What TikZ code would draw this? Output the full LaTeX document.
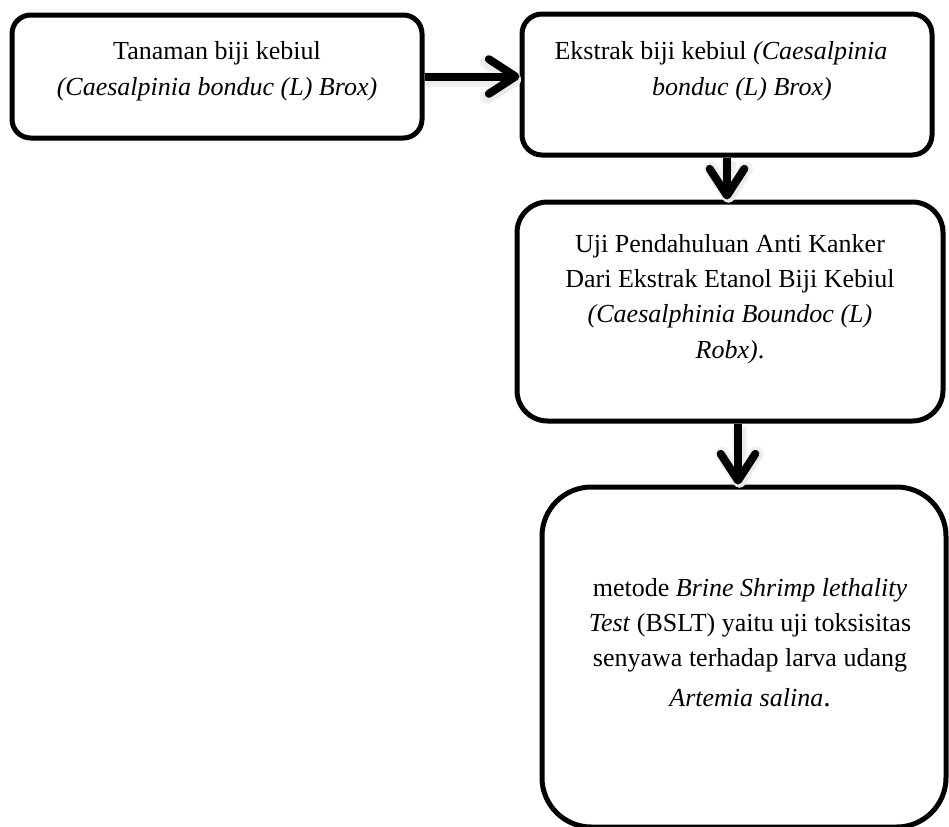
\documentclass[tikz,border=0pt]{standalone}
\usepackage{fontspec}
\setmainfont{Liberation Serif}
\usetikzlibrary{arrows.meta,fit}
\begin{document}
\begin{tikzpicture}[x=0.75pt,y=-0.75pt,
  box/.style={draw=black, fill=white, line width=3.75pt, rounded corners=#1, inner sep=0pt},
  box/.default=14pt,
  txt/.style={align=center, inner sep=0pt, font=\fontsize{19.5}{26.5}\selectfont},
  flow/.style={line width=6pt, -{Straight Barb[length=20pt, width=26pt, round]}},
  flowshade/.style={draw=black!#1, -{Straight Barb[length=20pt, width=26pt, round]}},
]
% page area
\useasboundingbox (0,0) rectangle (949,826);
\clip (0,0) rectangle (949,826);
\fill[white] (0,0) rectangle (949,826);

% boxes
\node[box=14pt, fit={(12,15) (422,138)}] (b1) {};
\node[box=15pt, fit={(522,14) (932,155)}] (b2) {};
\node[box=23pt, fit={(517,202) (943,421)}] (b3) {};
\node[box=37pt, fit={(542,487) (946,827)}] (b4) {};

% soft shading under the connectors
\begin{scope}[transform canvas={shift={(1.5,3)}}]
  \foreach \w/\c in {11pt/5, 8.5pt/8} {
    \draw[flowshade=\c, line width=\w] (b1.east) -- (b1.east -| b2.west);
    \draw[flowshade=\c, line width=\w] (b2.south) -- (b2.south |- b3.north);
    \draw[flowshade=\c, line width=\w] ([xshift=6pt]b3.south) -- ([xshift=6pt]b3.south |- b4.north);
  }
\end{scope}

% texts (anchored at the baseline of their last line)
\node[txt, anchor=base] (t1) at (217,95)
  {Tanaman biji kebiul\\ \textit{(Caesalpinia bonduc (L) Brox)}};
\node[txt, anchor=base] (t2) at (721,95)
  {Ekstrak biji kebiul \textit{(Caesalpinia}\\ \hspace*{31.5pt}\textit{bonduc (L) Brox)}};
\node[txt, anchor=base] (t3) at (730,358)
  {Uji Pendahuluan Anti Kanker\\ Dari Ekstrak Etanol Biji Kebiul\\
   \textit{(Caesalphinia Boundoc (L)}\\ \textit{Robx)}.};
\node[txt, anchor=base] (t4) at (750,706)
  {metode \textit{Brine Shrimp lethality}\\ \textit{Test} (BSLT) yaitu uji toksisitas\\
   senyawa terhadap larva udang\\[3pt] \textit{Artemia salina}{\fontsize{22}{26}\selectfont.}};

% connectors
\draw[flow] (b1.east) -- (b1.east -| b2.west);
\draw[flow] (b2.south) -- (b2.south |- b3.north);
\draw[flow] ([xshift=6pt]b3.south) -- ([xshift=6pt]b3.south |- b4.north);
\end{tikzpicture}
\end{document}
